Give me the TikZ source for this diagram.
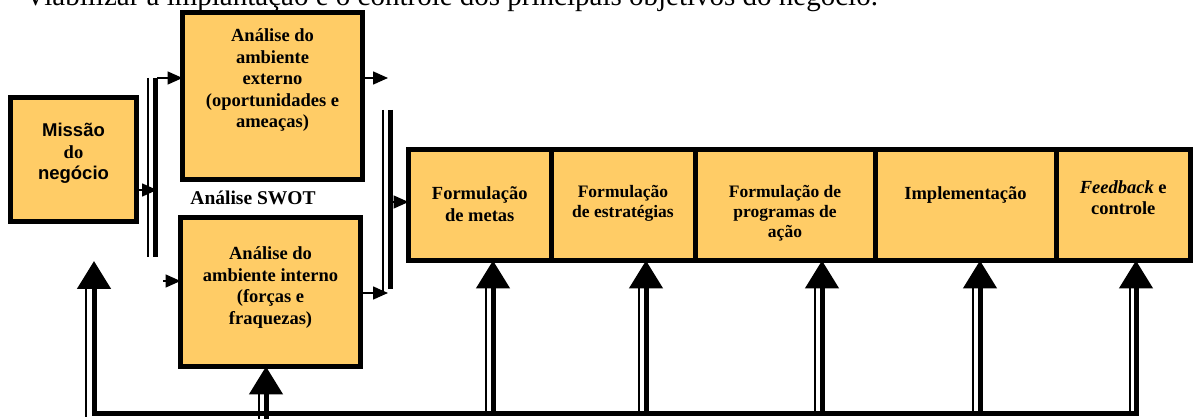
\documentclass[tikz,border=0pt]{standalone}
\usepackage{fontspec}
\setmainfont{Liberation Serif}
\setsansfont{Liberation Sans}
\usetikzlibrary{arrows.meta,positioning}
\definecolor{swotfill}{HTML}{FFCC66}

\begin{document}
\begin{tikzpicture}[
  x=1pt,y=-1pt,
  caixa/.style={draw=black,line width=5pt,fill=swotfill,inner sep=0pt,outer sep=0pt},
  etapa/.style={caixa,minimum height=111pt},
  rotulo/.style={font=\bfseries\fontsize{18.5}{21.5}\selectfont,align=center,inner sep=0pt},
  rotulomenor/.style={rotulo,font=\bfseries\fontsize{17.5}{20}\selectfont},
  grossa/.style={line width=5pt},
  fina/.style={line width=1.6pt},
  setinha/.style={line width=1.6pt,-{Triangle[width=13pt,length=15pt]}},
  setao/.style={line width=5pt,line join=miter,-{Triangle[width=33pt,length=28pt]}}
]
\useasboundingbox (0,0) rectangle (1195,419);

\node[anchor=base west,inner sep=0pt,font=\fontsize{29}{34}\selectfont] (intro) at (25,6)
  {Viabilizar a implantação e o controle dos principais objetivos do negócio.};

% missao e analise SWOT
\node[caixa,minimum width=126pt,minimum height=124pt] (missao) at (73.5,159.5) {};
\node[rotulo,below=25.5pt of missao.north] (tmissao)
  {{\sffamily Missão}\\do\\{\sffamily negócio}};
\node[caixa,minimum width=180pt,minimum height=167pt] (externo) at (272.5,96) {};
\node[rotulo,below=16pt of externo.north] (texterno)
  {Análise do\\ambiente\\externo\\(oportunidades e\\ameaças)};
\node[caixa,minimum width=180pt,minimum height=149pt] (interno) at (270.5,292) {};
\node[rotulo,below=29pt of interno.north] (tinterno)
  {Análise do\\ambiente interno\\(forças e\\fraquezas)};
\node[rotulo,font=\bfseries\fontsize{19.5}{22}\selectfont] (swot) at (253,198) {Análise SWOT};

% etapas
\node[etapa,minimum width=142.5pt] (metas) at (479.75,205) {};
\node[etapa,minimum width=144pt,right=0pt of metas] (estrategias) {};
\node[etapa,minimum width=180pt,right=0pt of estrategias] (programas) {};
\node[etapa,minimum width=181pt,right=0pt of programas] (implementacao) {};
\node[etapa,minimum width=134.5pt,right=0pt of implementacao] (feedback) {};
\node[rotulo,below=37pt of metas.north] (tmetas) {Formulação\\de metas};
\node[rotulomenor,below=35.5pt of estrategias.north] (testrategias)
  {Formulação\\de estratégias};
\node[rotulomenor,below=35.5pt of programas.north] (tprogramas)
  {Formulação de\\programas de\\ação};
\node[rotulo,below=37pt of implementacao.north] (timplementacao) {Implementação};
\node[rotulo,below=30.5pt of feedback.north] (tfeedback)
  {\textit{Feedback} e\\controle};

\coordinate (barraEtop) at (155,78);
\coordinate (barraEbot) at (155,257);
\coordinate (juncaoE) at (157,190);
\coordinate (entradaI) at (163,281);
\coordinate (barraDtop) at (390,110);
\coordinate (barraDbot) at (390,289);
\coordinate (saidaE) at (388,78);
\coordinate (saidaI) at (388,293);
\coordinate (juncaoD) at (392,202);

% barras da analise SWOT
\draw[fina] ([xshift=-7pt]barraEtop) -- ([xshift=-7pt]barraEbot);
\draw[grossa] (barraEtop) -- (barraEbot);
\draw[setinha] (missao.east |- juncaoE) -- (juncaoE);
\draw[setinha] ([xshift=2pt]barraEtop) -- (externo.west |- barraEtop);
\draw[setinha] (entradaI) -- (interno.west |- entradaI);
\draw[setinha] (externo.east |- saidaE) -- (saidaE);
\draw[setinha] (interno.east |- saidaI) -- (saidaI);
\draw[fina] ([xshift=-7pt]barraDtop) -- ([xshift=-7pt,yshift=-3pt]barraDbot);
\draw[grossa] (barraDtop) -- (barraDbot);
\draw[setinha] (juncaoD) -- (metas.west |- juncaoD);

% retorno
\coordinate (retornoE) at (94,414);
\coordinate (pontaM) at (94,261);
\coordinate (r1) at (493,414);
\coordinate (r2) at (646,414);
\coordinate (r3) at (822,414);
\coordinate (r4) at (980,414);
\coordinate (r5) at (1136,414);
\coordinate (ri) at (266,430);

\draw[setao] (r5) -- (retornoE) -- (pontaM);
\draw[fina] ([xshift=-8pt,yshift=-3pt]retornoE) -- ([xshift=-8pt,yshift=-28pt]pontaM);
\draw[setao] (ri) -- (interno.south -| ri);
\draw[fina] ([xshift=-7pt]ri) -- ([xshift=-7pt,yshift=-28pt]ri |- interno.south);
\draw[setao] (r1) -- (r1 |- metas.south);
\draw[fina] ([xshift=-7pt]r1) -- ([xshift=-7pt,yshift=-28pt]r1 |- metas.south);
\draw[setao] (r2) -- (r2 |- estrategias.south);
\draw[fina] ([xshift=-7pt]r2) -- ([xshift=-7pt,yshift=-28pt]r2 |- estrategias.south);
\draw[setao] (r3) -- (r3 |- programas.south);
\draw[fina] ([xshift=-7pt]r3) -- ([xshift=-7pt,yshift=-28pt]r3 |- programas.south);
\draw[setao] (r4) -- (r4 |- implementacao.south);
\draw[fina] ([xshift=-7pt]r4) -- ([xshift=-7pt,yshift=-28pt]r4 |- implementacao.south);
\draw[setao] ([yshift=-2pt]r5) -- (r5 |- feedback.south);
\draw[fina] ([xshift=-6pt]r5) -- ([xshift=-6pt,yshift=-28pt]r5 |- feedback.south);
\end{tikzpicture}
\end{document}
